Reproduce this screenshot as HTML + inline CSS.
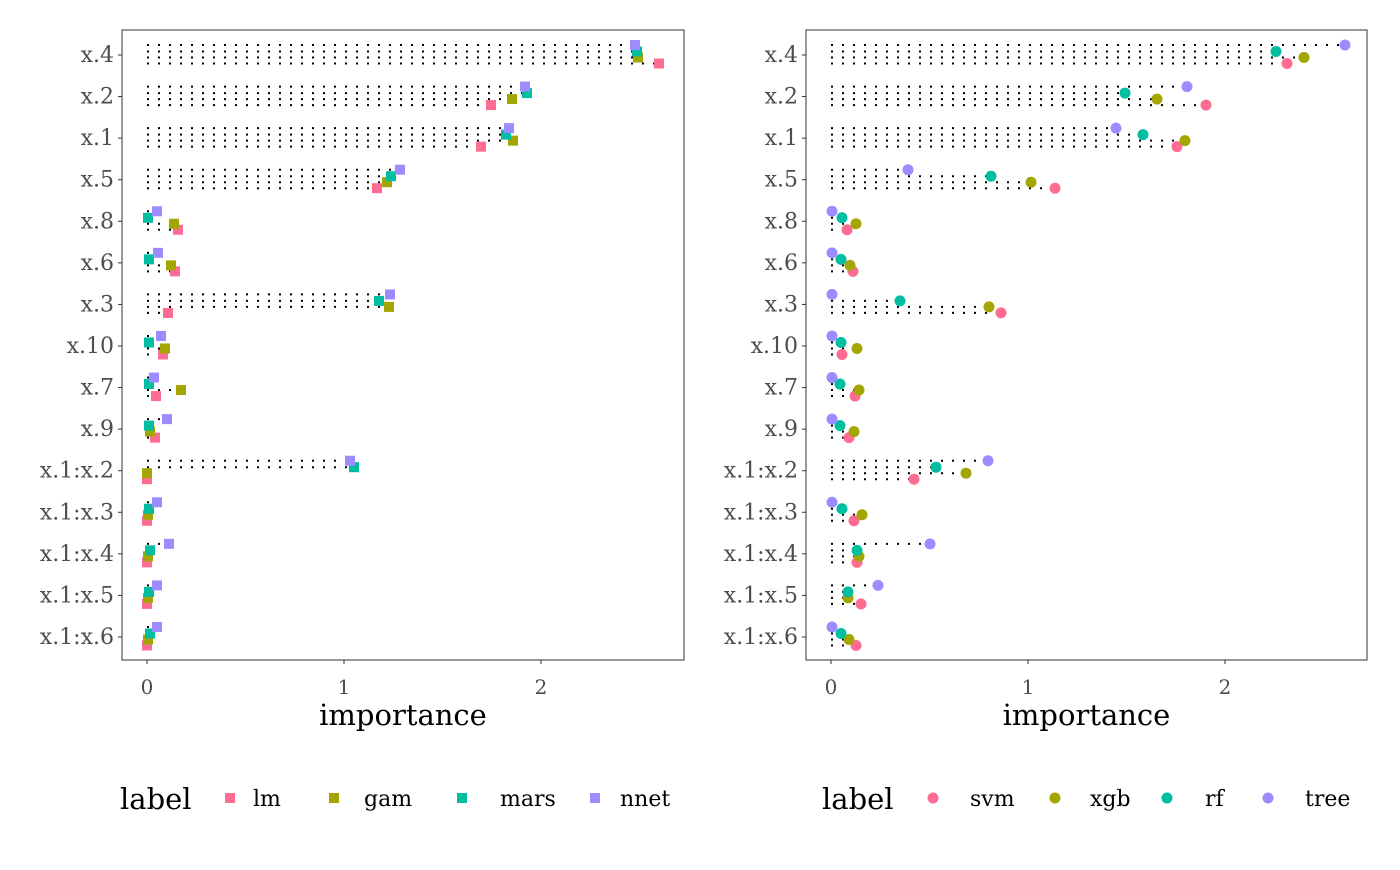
<!DOCTYPE html>
<html><head><meta charset="utf-8"><style>
body{margin:0;background:#fff}
svg text{font-family:"DejaVu Serif","Liberation Serif",serif}
</style></head><body>
<svg id="s" width="1400" height="865" xmlns="http://www.w3.org/2000/svg"></svg>
<script>
const rows=["x.4","x.2","x.1","x.5","x.8","x.6","x.3","x.10","x.7","x.9","x.1:x.2","x.1:x.3","x.1:x.4","x.1:x.5","x.1:x.6"];
const cols=["#FF6C91","#A3A500","#00BE9F","#9D8CFF"];
const offs=[8.5,2.5,-3.5,-10];
const L=[[659,638,637,635],[491,512,527,525],[481,513,506,509],[377,387,391,400],[178,174,148,157],[175,171,149,158],[168,389,379,390],[163,165,149,161],[156,181,149,154],[155,150,149,167],[147,147,354,350],[147,148,149,157],[147,148,150,169],[147,148,149,157],[147,148,150,157]];
const R=[[1287,1304,1276,1345],[1206,1157,1125,1187],[1177,1185,1143,1116],[1055,1031,991,908],[847,856,842,832],[853,850,841,832],[1001,989,900,832],[842,857,841,832],[855,859,840,832],[849,854,840,832],[914,966,936,988],[854,862,842,832],[857,859,857,930],[861,848,848,878],[856,849,841,832]];
let h="";
function panel(x0,x1,z,data,circle){
 h+=`<rect x="${x0}" y="30" width="${x1-x0}" height="630" fill="#fff" stroke="#333" stroke-width="1"/>`;
 rows.forEach((r,i)=>{const y=55+i*41.57;
  h+=`<line x1="${x0-4}" x2="${x0}" y1="${y}" y2="${y}" stroke="#333"/>`;
  h+=`<text x="${x0-8}" y="${y+7}" text-anchor="end" font-size="22" fill="#4d4d4d">${r}</text>`;
  data[i].forEach((px,k)=>{const yy=y+offs[k];
   if(px-z>3)h+=`<line x1="${z}" x2="${px}" y1="${yy}" y2="${yy}" stroke="#000" stroke-width="2" stroke-dasharray="2 9"/>`;});
  data[i].forEach((px,k)=>{const yy=y+offs[k];
   h+=circle?`<circle cx="${px}" cy="${yy}" r="5.5" fill="${cols[k]}"/>`:`<rect x="${px-5}" y="${yy-5}" width="10" height="10" fill="${cols[k]}"/>`;});
 });
 [0,1,2].forEach(t=>{const x=z+t*197;
  h+=`<line x1="${x}" x2="${x}" y1="660" y2="664" stroke="#333"/>`;
  h+=`<text x="${x}" y="694" text-anchor="middle" font-size="20" fill="#4d4d4d">${t}</text>`;});
 h+=`<text x="${(x0+x1)/2}" y="725" text-anchor="middle" font-size="29">importance</text>`;
}
panel(122,684,147,L,false);
panel(806,1367,831,R,true);
function legend(lx,items,circle){
 h+=`<text x="${lx}" y="809" font-size="29">label</text>`;
 items.forEach(([mx,tx,t],k)=>{
  h+=circle?`<circle cx="${mx}" cy="798" r="5.5" fill="${cols[k]}"/>`:`<rect x="${mx-5}" y="793" width="10" height="10" fill="${cols[k]}"/>`;
  h+=`<text x="${tx}" y="806" font-size="22">${t}</text>`;});
}
legend(120,[[230,253,"lm"],[334,364,"gam"],[462,500,"mars"],[595,620,"nnet"]],false);
legend(822,[[933,970,"svm"],[1055,1090,"xgb"],[1167,1205,"rf"],[1268,1305,"tree"]],true);
document.getElementById("s").innerHTML=h;
</script>
</body></html>
